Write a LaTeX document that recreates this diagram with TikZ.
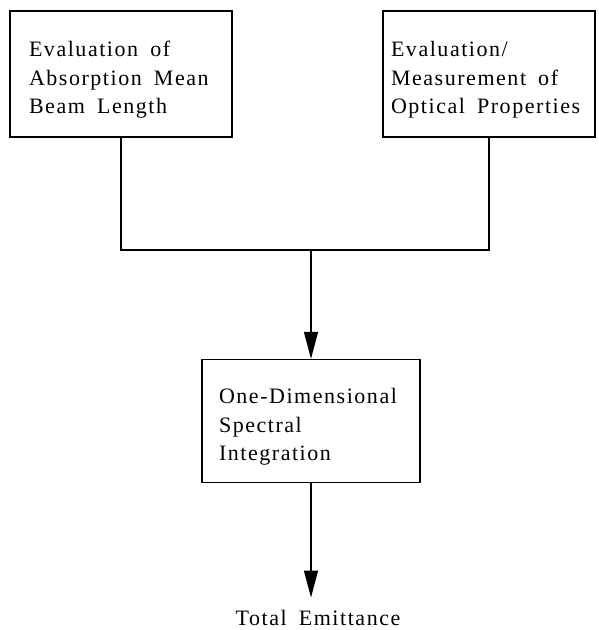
\documentclass[tikz,border=0pt]{standalone}
\usepackage{fontspec}
\setmainfont[LetterSpace=7]{Liberation Serif}
\usetikzlibrary{arrows.meta,positioning}

\begin{document}
\begin{tikzpicture}[x=1pt,y=-1pt,
  stage/.style={draw,line width=1.3pt,align=left,minimum height=126pt,
    font=\fontsize{22}{28.5}\selectfont,
    execute at begin node={\spaceskip=.55em\rule{0pt}{27pt}}},
  link/.style={line width=1.3pt},
  flow/.style={line width=1.3pt,-{Triangle[length=27pt,width=14pt]}}]
  \useasboundingbox (0,0) rectangle (598,630);
  % input boxes
  \node[stage,inner xsep=19pt,text width=184pt] (beam) at (121,74) {Evaluation of\\Absorption Mean\\Beam Length};
  \node[stage,inner xsep=8pt,text width=196pt] (optic) at (489,74) {Evaluation/\\Measurement of\\Optical Properties};
  % integration step
  \node[stage,inner xsep=17pt,text width=184pt,minimum height=123pt] (integ) at (311,421) {One-Dimensional\\Spectral\\Integration};
  \node[anchor=base,inner ysep=12pt,font=\fontsize{22}{28}\selectfont,
    execute at begin node={\spaceskip=.55em}] (total) at (318,625) {Total Emittance};
  % connectors
  \coordinate (join) at (integ.north |- 0,250);
  \draw[link] (beam.south) |- (join) -| (optic.south);
  \draw[flow] (join) -- (integ.north);
  \draw[flow] (integ.south) -- (integ.south |- total.north);
\end{tikzpicture}
\end{document}
